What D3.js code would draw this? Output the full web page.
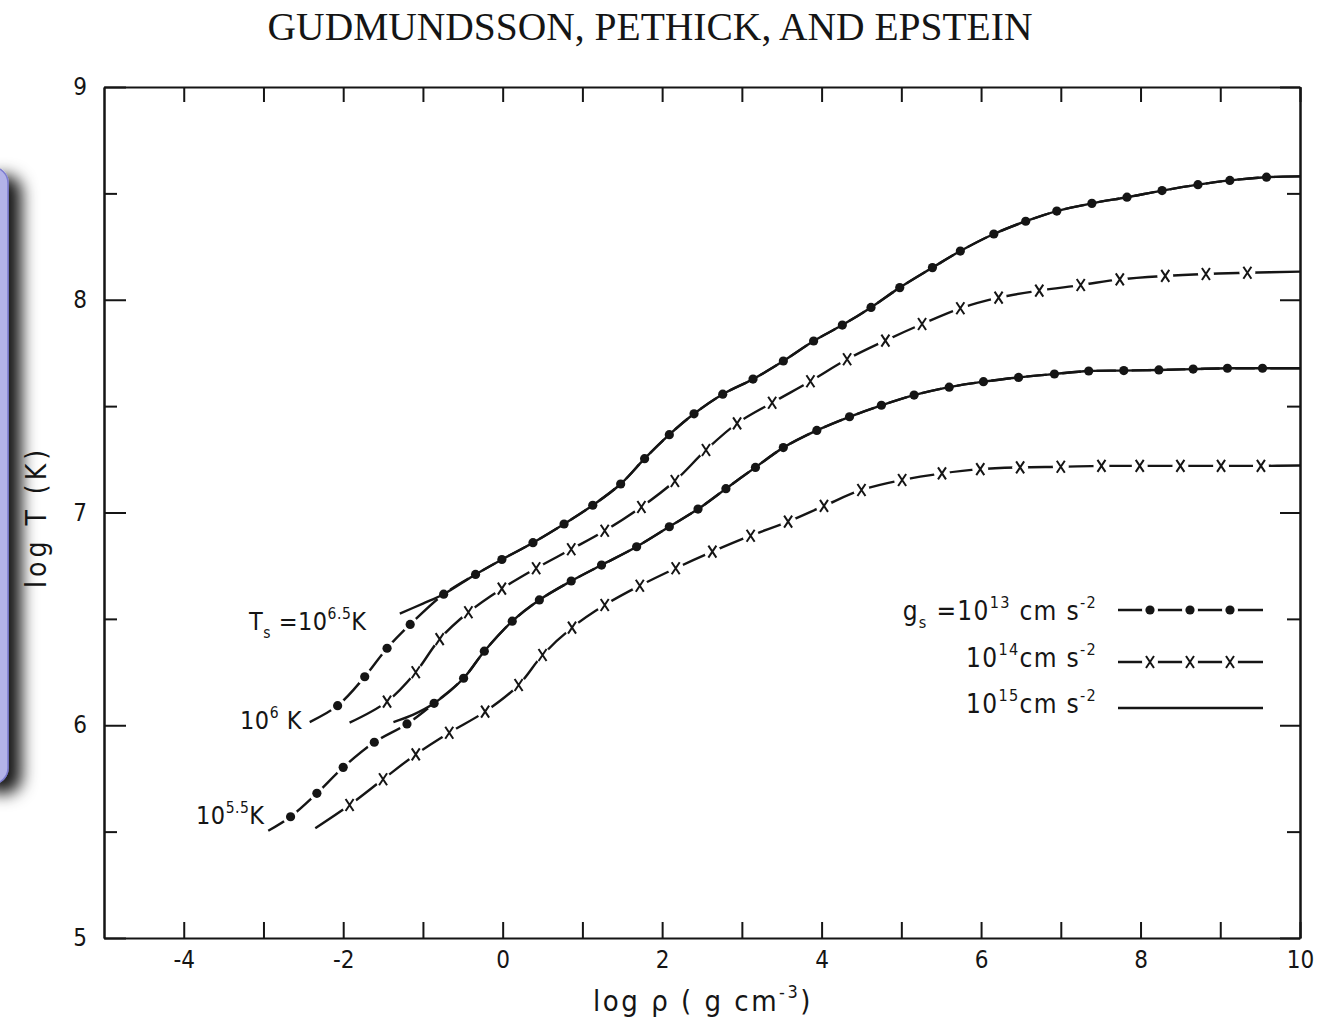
<!DOCTYPE html>
<html>
<head>
<meta charset="utf-8">
<script src="https://cdn.jsdelivr.net/npm/d3@7"></script>
<style>
  body { margin: 0; background: #fff; }
  svg { display: block; }
  .lbl { font-family: "DejaVu Sans Condensed", "DejaVu Sans", sans-serif; fill: #151515; }
  .axis path, .axis line { stroke: #151515; stroke-width: 2; }
  .axis text { font-family: "DejaVu Sans Condensed", "DejaVu Sans", sans-serif; font-size: 24px; fill: #151515; }
</style>
</head>
<body>
<svg id="chart" width="1333" height="1021"></svg>
<script>
// log rho / log T, abgelesen aus der Abbildung
// g = 1e13, Ts = 1e6 (Punkte)
const dots13_T60 = [
  [-2.42, 6.015], [-2.07, 6.092], [-1.73, 6.228], [-1.45, 6.362], [-1.16, 6.474],
  [-0.74, 6.616], [-0.34, 6.709], [-0.01, 6.779], [0.38, 6.858], [0.77, 6.946],
  [1.13, 7.034], [1.48, 7.134], [1.78, 7.253], [2.09, 7.366], [2.40, 7.464],
  [2.76, 7.556], [3.14, 7.627], [3.52, 7.712], [3.90, 7.806], [4.26, 7.881],
  [4.62, 7.964], [4.98, 8.057], [5.39, 8.151], [5.74, 8.229], [6.16, 8.309],
  [6.56, 8.369], [6.95, 8.417], [7.39, 8.453], [7.83, 8.482], [8.27, 8.513],
  [8.72, 8.541], [9.12, 8.561], [9.58, 8.576], [10, 8.58]
];
// g = 1e15, Ts = 10^6.5 (durchgezogen) – Anfangsstück, danach deckungsgleich
const solid15_T65_start = [[-1.29, 6.525], [-1.0, 6.572]];
// g = 1e14, Ts = 1e6 (Kreuze)
const cross14_T60 = [
  [-1.92, 6.012], [-1.45, 6.111], [-1.09, 6.249], [-0.79, 6.405], [-0.43, 6.531],
  [-0.01, 6.642], [0.42, 6.738], [0.86, 6.827], [1.28, 6.914], [1.74, 7.026],
  [2.16, 7.148], [2.55, 7.294], [2.94, 7.419], [3.38, 7.516], [3.86, 7.617],
  [4.32, 7.720], [4.80, 7.808], [5.26, 7.886], [5.74, 7.960], [6.22, 8.010],
  [6.73, 8.043], [7.25, 8.069], [7.74, 8.096], [8.31, 8.112], [8.82, 8.121],
  [9.34, 8.127], [10, 8.132]
];
// g = 1e13, Ts = 10^5.5 (Punkte)
const dots13_T55 = [
  [-2.94, 5.504], [-2.66, 5.570], [-2.33, 5.680], [-2.00, 5.802], [-1.61, 5.920],
  [-1.20, 6.006], [-0.86, 6.103], [-0.49, 6.221], [-0.23, 6.348], [0.12, 6.489],
  [0.46, 6.589], [0.86, 6.678], [1.24, 6.753], [1.68, 6.839], [2.09, 6.933],
  [2.45, 7.016], [2.80, 7.112], [3.17, 7.212], [3.52, 7.305], [3.94, 7.386],
  [4.35, 7.450], [4.75, 7.504], [5.16, 7.552], [5.60, 7.589], [6.03, 7.615],
  [6.47, 7.635], [6.92, 7.651], [7.35, 7.665], [7.79, 7.667], [8.23, 7.670],
  [8.66, 7.674], [9.09, 7.678], [9.53, 7.678], [10, 7.678]
];
// g = 1e15, Ts = 1e6 (durchgezogen) – Anfangsstück
const solid15_T60_start = [[-1.37, 6.015], [-1.12, 6.05]];
// g = 1e14, Ts = 10^5.5 (Kreuze)
const cross14_T55 = [
  [-2.35, 5.516], [-1.92, 5.625], [-1.50, 5.746], [-1.09, 5.863], [-0.67, 5.965],
  [-0.22, 6.064], [0.20, 6.189], [0.50, 6.330], [0.87, 6.459], [1.28, 6.565],
  [1.72, 6.656], [2.17, 6.738], [2.63, 6.816], [3.11, 6.891], [3.58, 6.957],
  [4.03, 7.031], [4.50, 7.106], [5.01, 7.153], [5.51, 7.184], [5.99, 7.204],
  [6.49, 7.212], [7.00, 7.215], [7.51, 7.219], [7.99, 7.219], [8.50, 7.219],
  [9.01, 7.219], [9.51, 7.219], [10, 7.221]
];

const xTickValues = d3.range(-4, 11);
const xTickLabels = [-4, -2, 0, 2, 4, 6, 8, 10];
const yMajor = [5, 6, 7, 8, 9];
const yMinor = [5.5, 6.5, 7.5, 8.5];

const svg = d3.select("#chart");
const ink = "#151515";

// Scales
const x = d3.scaleLinear().domain([-5, 10]).range([104, 1300]);
const y = d3.scaleLinear().domain([5, 9]).range([938, 87]);

// Hochgestellt / tiefgestellt als tspans
function richText(sel, parts, size) {
  let cur = 0;
  parts.forEach(p => {
    const target = p.sup ? -size * 0.45 : p.sub ? size * 0.3 : 0;
    const ts = sel.append("tspan").text(p.t).attr("dy", target - cur);
    if (p.sup || p.sub) ts.attr("font-size", size * 0.62);
    cur = target;
  });
}

// lila Kasten am linken Rand (Scan-Artefakt)
const defs = svg.append("defs");
const flt = defs.append("filter").attr("id", "shadow")
  .attr("x", "-50%").attr("y", "-10%").attr("width", "300%").attr("height", "130%");
flt.append("feDropShadow").attr("dx", 13).attr("dy", 9).attr("stdDeviation", 8)
  .attr("flood-color", "#000").attr("flood-opacity", 0.9);
svg.append("rect")
  .attr("x", -30).attr("y", 167).attr("width", 38).attr("height", 617).attr("rx", 16)
  .attr("fill", "#b3b3e8").attr("stroke", "#7c7cd0").attr("stroke-width", 1.5)
  .attr("filter", "url(#shadow)");

// Titel
svg.append("text")
  .attr("x", 650).attr("y", 40)
  .attr("text-anchor", "middle")
  .style("font-family", "'Liberation Serif', 'Times New Roman', serif")
  .style("font-size", "39.5px")
  .attr("fill", ink)
  .text("GUDMUNDSSON, PETHICK, AND EPSTEIN");

// Achsen
svg.append("g").attr("class", "axis")
  .attr("transform", `translate(0,${y(5)})`)
  .call(d3.axisBottom(x).tickValues(xTickValues).tickSizeInner(-16).tickSizeOuter(0)
    .tickPadding(13).tickFormat(d => xTickLabels.includes(d) ? String(d) : ""));
svg.append("g").attr("class", "axis")
  .attr("transform", `translate(0,${y(9)})`)
  .call(d3.axisTop(x).tickValues(xTickValues).tickSizeInner(-15).tickSizeOuter(0).tickFormat(""));
svg.append("g").attr("class", "axis")
  .attr("transform", `translate(${x(-5)},0)`)
  .call(d3.axisLeft(y).tickValues(yMajor).tickSizeInner(-22).tickSizeOuter(0)
    .tickPadding(17).tickFormat(d => String(d)));
svg.append("g").attr("class", "axis")
  .attr("transform", `translate(${x(-5)},0)`)
  .call(d3.axisLeft(y).tickValues(yMinor).tickSizeInner(-13).tickSizeOuter(0).tickFormat(""));
svg.append("g").attr("class", "axis")
  .attr("transform", `translate(${x(10)},0)`)
  .call(d3.axisRight(y).tickValues(yMajor).tickSizeInner(-20).tickSizeOuter(0).tickFormat(""));
svg.append("g").attr("class", "axis")
  .attr("transform", `translate(${x(10)},0)`)
  .call(d3.axisRight(y).tickValues(yMinor).tickSizeInner(-13).tickSizeOuter(0).tickFormat(""));
svg.selectAll(".axis .domain").attr("stroke-width", 2.2);

// Achsentitel
const xl = svg.append("text").attr("class", "lbl")
  .attr("x", 703).attr("y", 1011).attr("text-anchor", "middle")
  .style("font-size", "29px").style("letter-spacing", "2.5px");
richText(xl, [{ t: "log ρ  ( g cm" }, { t: "-3", sup: true }, { t: ")" }], 29);

svg.append("text").attr("class", "lbl")
  .attr("transform", "translate(46,517) rotate(-90)")
  .attr("text-anchor", "middle")
  .style("font-size", "28px").style("letter-spacing", "4px")
  .text("log T (K)");

// Kurven
const line = d3.line().x(d => x(d[0])).y(d => y(d[1])).curve(d3.curveCatmullRom.alpha(0.5));
const plot = svg.append("g");

function drawPath(pts) {
  plot.append("path").attr("d", line(pts))
    .attr("fill", "none").attr("stroke", ink).attr("stroke-width", 2.4);
}
function gaps(pts, r) {
  plot.append("g").selectAll("circle").data(pts.slice(1, -1)).join("circle")
    .attr("cx", d => x(d[0])).attr("cy", d => y(d[1])).attr("r", r).attr("fill", "#fff");
}
function crosses(pts) {
  plot.append("g").selectAll("path").data(pts.slice(1, -1)).join("path")
    .attr("transform", d => `translate(${x(d[0])},${y(d[1])})`)
    .attr("d", "M-4,-6L4,6M4,-6L-4,6")
    .attr("stroke", ink).attr("stroke-width", 2).attr("fill", "none");
}
function dots(pts) {
  plot.append("g").selectAll("circle").data(pts.slice(1, -1)).join("circle")
    .attr("cx", d => x(d[0])).attr("cy", d => y(d[1])).attr("r", 4.6).attr("fill", ink);
}

// Kreuz-Kurven
[cross14_T60, cross14_T55].forEach(pts => { drawPath(pts); gaps(pts, 8); crosses(pts); });
// Punkt-Kurven
[dots13_T60, dots13_T55].forEach(pts => { drawPath(pts); gaps(pts, 8); });
// durchgezogene Kurven, ab Vereinigung deckungsgleich
const solidHigh = solid15_T65_start.concat(dots13_T60.filter(d => d[0] > -0.8));
const solidLow = solid15_T60_start.concat(dots13_T55.filter(d => d[0] > -0.9));
drawPath(solidHigh);
drawPath(solidLow);
// Punkte zuletzt
dots(dots13_T60);
dots(dots13_T55);

// Beschriftung der Kurven
const lblSize = 25;
const t1 = svg.append("text").attr("class", "lbl").attr("x", 249).attr("y", 630)
  .style("font-size", lblSize + "px").style("letter-spacing", "0.5px");
richText(t1, [{ t: "T" }, { t: "s", sub: true }, { t: " =10" }, { t: "6.5", sup: true }, { t: "K" }], lblSize);
const t2 = svg.append("text").attr("class", "lbl").attr("x", 240).attr("y", 729)
  .style("font-size", lblSize + "px").style("letter-spacing", "0.5px");
richText(t2, [{ t: "10" }, { t: "6", sup: true }, { t: "  K" }], lblSize);
const t3 = svg.append("text").attr("class", "lbl").attr("x", 196).attr("y", 824)
  .style("font-size", lblSize + "px").style("letter-spacing", "0.5px");
richText(t3, [{ t: "10" }, { t: "5.5", sup: true }, { t: "K" }], lblSize);

// Legende
const legRows = [
  { parts: [{ t: "g" }, { t: "s", sub: true }, { t: " =10" }, { t: "13", sup: true }, { t: " cm  s" }, { t: "-2", sup: true }], ty: 620, ly: 610, kind: "dot" },
  { parts: [{ t: "10" }, { t: "14", sup: true }, { t: "cm  s" }, { t: "-2", sup: true }], ty: 667, ly: 662, kind: "cross" },
  { parts: [{ t: "10" }, { t: "15", sup: true }, { t: "cm  s" }, { t: "-2", sup: true }], ty: 713, ly: 708, kind: "solid" }
];
const symX = [1118, 1263];
const symMarks = [1150, 1190, 1230];
legRows.forEach(r => {
  const t = svg.append("text").attr("class", "lbl").attr("x", 1097).attr("y", r.ty)
    .attr("text-anchor", "end").style("font-size", "26px").style("letter-spacing", "1.3px");
  richText(t, r.parts, 26);
  svg.append("line").attr("x1", symX[0]).attr("x2", symX[1]).attr("y1", r.ly).attr("y2", r.ly)
    .attr("stroke", ink).attr("stroke-width", 2.3);
  if (r.kind === "dot") {
    symMarks.forEach(m => {
      svg.append("circle").attr("cx", m).attr("cy", r.ly).attr("r", 8).attr("fill", "#fff");
      svg.append("circle").attr("cx", m).attr("cy", r.ly).attr("r", 4.6).attr("fill", ink);
    });
  } else if (r.kind === "cross") {
    symMarks.forEach(m => {
      svg.append("circle").attr("cx", m).attr("cy", r.ly).attr("r", 8).attr("fill", "#fff");
      svg.append("path").attr("transform", `translate(${m},${r.ly})`).attr("d", "M-4,-6L4,6M4,-6L-4,6")
        .attr("stroke", ink).attr("stroke-width", 2).attr("fill", "none");
    });
  }
});
</script>
</body>
</html>
